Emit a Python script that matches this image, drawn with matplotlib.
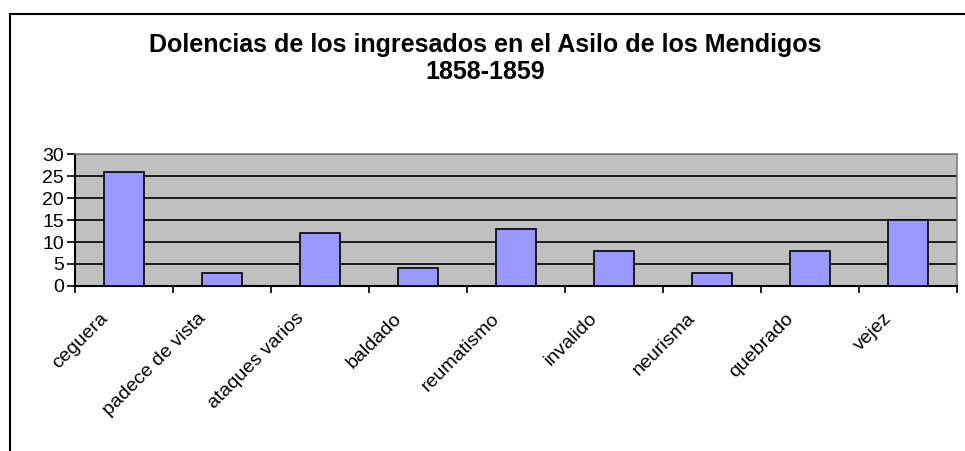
import matplotlib
matplotlib.use("Agg")
import matplotlib.pyplot as plt
from matplotlib.patches import Rectangle
from matplotlib.transforms import offset_copy
import numpy as np

# data
categories = ["ceguera", "padece de vista", "ataques varios", "baldado",
              "reumatismo", "invalido", "neurisma", "quebrado", "vejez"]
counts = [26, 3, 12, 4, 13, 8, 3, 8, 15]
yticks = [0, 5, 10, 15, 20, 25, 30]
title_lines = ["Dolencias de los ingresados en el Asilo de los Mendigos", "1858-1859"]

plt.rcParams["font.family"] = ["Liberation Sans", "DejaVu Sans"]

W, H = 965, 451
fig = plt.figure(figsize=(W / 100, H / 100), dpi=100)

# outer chart frame (only left and top edges are visible in the crop)
fig.patches.append(Rectangle((10 / W, -0.5), 2.0, 1.5 - 14 / H,
                             transform=fig.transFigure, fill=False,
                             edgecolor="black", lw=1.5))

ax = fig.add_axes([75 / W, 1 - 286 / H, 882 / W, 132 / H])
ax.set_facecolor("#C0C0C0")

x = np.arange(len(categories))
ax.bar(x, counts, width=0.41, color="#9999FF", edgecolor="black", lw=1.2, zorder=3)

ax.set_xlim(-0.5, len(categories) - 0.5)
ax.set_ylim(0, 30)
ax.set_yticks(yticks)
ax.set_yticklabels([str(v) for v in yticks], fontsize=14)
ax.yaxis.grid(True, color="black", lw=1.2, zorder=1)
ax.set_axisbelow(True)

# ticks sit on category boundaries
ax.set_xticks(np.arange(len(categories) + 1) - 0.5)
ax.set_xticklabels([])
ax.tick_params(axis="x", direction="out", length=5, width=1.2, color="black")
ax.tick_params(axis="y", direction="out", length=6, width=1.2, color="black", pad=2)

for i, name in enumerate(categories):
    tr = offset_copy(ax.get_xaxis_transform(), fig=fig, x=-25, y=-24, units="dots")
    ax.text(i, 0, name, transform=tr, rotation=45, rotation_mode="anchor",
            ha="right", va="top", fontsize=14)

for side in ("top", "right"):
    ax.spines[side].set_color("#808080")
    ax.spines[side].set_linewidth(1.2)
for side in ("left", "bottom"):
    ax.spines[side].set_color("black")
    ax.spines[side].set_linewidth(1.5)

fig.text(485 / W, 1 - 45 / H, title_lines[0], ha="center", va="center",
         fontsize=18, fontweight="bold")
fig.text(485 / W, 1 - 72 / H, title_lines[1], ha="center", va="center",
         fontsize=18, fontweight="bold")

fig.savefig("out.png", dpi=100)
